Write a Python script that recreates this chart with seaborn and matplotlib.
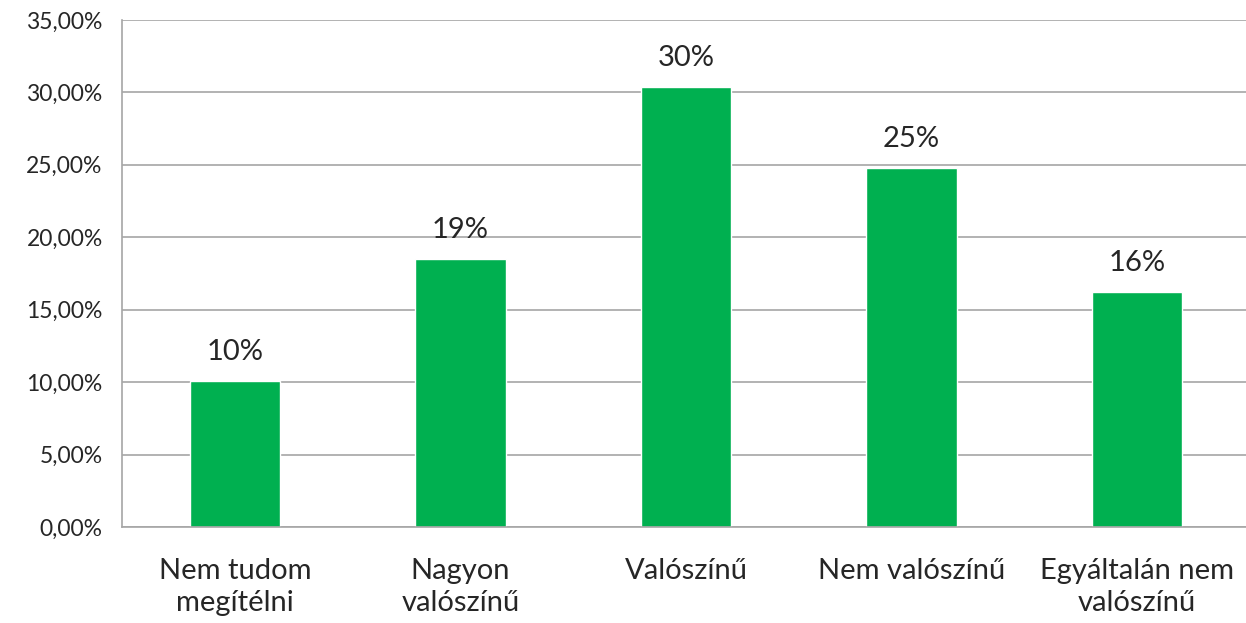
import pandas as pd
import matplotlib
matplotlib.use("Agg")
import matplotlib.pyplot as plt
import seaborn as sns
from matplotlib.ticker import FixedLocator, FuncFormatter

categories = ["Nem tudom\nmegítélni", "Nagyon\nvalószínű", "Valószínű",
              "Nem valószínű", "Egyáltalán nem\nvalószínű"]
values = [10.1, 18.5, 30.4, 24.8, 16.2]
labels = ["10%", "19%", "30%", "25%", "16%"]
y_ticks = [0, 5, 10, 15, 20, 25, 30, 35]

df = pd.DataFrame({"category": categories, "value": values})

sns.set_style("white")
plt.rcParams["font.family"] = ["Lato", "DejaVu Sans"]

fig = plt.figure(figsize=(12.46, 6.23), dpi=100)
ax = fig.add_axes([0.098, 0.154, 0.905, 0.814])

sns.barplot(data=df, x="category", y="value", color="#00B050",
            width=0.4, saturation=1, ax=ax)

grid_c = "#A6A6A6"
ax.set_ylim(0, 35)
ax.set_xlim(-0.5, 4.5)
ax.set_yticks(y_ticks)
ax.yaxis.set_major_formatter(FuncFormatter(lambda v, p: f"{v:.2f}".replace(".", ",") + "%"))
ax.grid(axis="y", color=grid_c, linewidth=1.2)
ax.set_axisbelow(True)

for s in ["top", "right"]:
    ax.spines[s].set_visible(False)
ax.spines["left"].set_color(grid_c)
ax.spines["bottom"].set_color(grid_c)
ax.spines["left"].set_linewidth(1.2)
ax.spines["bottom"].set_linewidth(1.2)

# category labels without tick marks, tick marks at boundaries
ax.tick_params(axis="x", length=0, labelsize=21, pad=22)
for lbl in ax.get_xticklabels():
    lbl.set_linespacing(1.3)
ax.xaxis.set_minor_locator(FixedLocator([-0.5, 0.5, 1.5, 2.5, 3.5]))
ax.tick_params(axis="x", which="minor", length=10, color=grid_c, width=1.2)
ax.tick_params(axis="y", length=8, color=grid_c, width=1.2, labelsize=16.5, pad=6)
ax.set_xlabel("")
ax.set_ylabel("")

for i, (v, t) in enumerate(zip(values, labels)):
    ax.text(i, v + 1.1, t, ha="center", va="bottom", fontsize=21)

fig.savefig("out.png", dpi=100)
